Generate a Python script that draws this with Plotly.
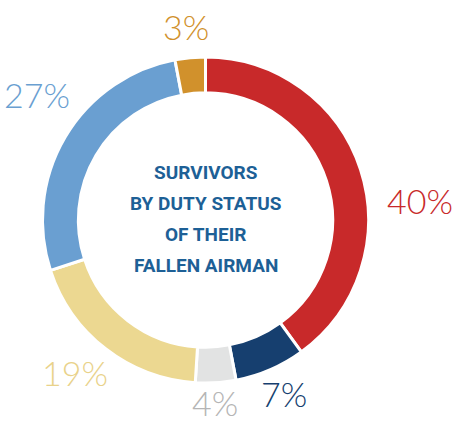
import math
import plotly.graph_objects as go

categories = ["Active Duty", "Reserve", "Guard", "Retired", "Veteran", "Other"]
values = [40, 7, 4, 19, 27, 3]
labels_text = ["40%", "7%", "4%", "19%", "27%", "3%"]
title_lines = ["SURVIVORS", "BY DUTY STATUS", "OF THEIR", "FALLEN AIRMAN"]

# styling
slice_colors = ["#c8292a", "#163f6f", "#e2e3e3", "#ecd891", "#6a9fd1", "#d1912c"]
label_colors = ["#c8292a", "#163f6f", "#b5b5b5", "#e9d28a", "#6a9fd1", "#d1912c"]
label_dist = [215, 191, 183, 201, 210, 194]      # px from centre to label centre
label_angle_shift = [12.7, -1, 0.6, 2.7, 6, -0.4]  # degrees

W, H = 456, 424
cx, cy, r = 205.5, 220, 163

fig = go.Figure(go.Pie(
    labels=categories,
    values=values,
    textinfo="none",
    sort=False,
    direction="clockwise",
    rotation=0,
    hole=0.78,
    marker=dict(colors=slice_colors, line=dict(color="white", width=3)),
    domain=dict(x=[(cx - r) / W, (cx + r) / W], y=[(H - cy - r) / H, (H - cy + r) / H]),
    showlegend=False,
    hoverinfo="label+percent",
))

total = sum(values)
cum = 0
for v, t, c, d, s in zip(values, labels_text, label_colors, label_dist, label_angle_shift):
    mid = math.radians((cum + v / 2) / total * 360 + s)
    cum += v
    px = cx + d * math.sin(mid)
    py = cy - d * math.cos(mid)
    fig.add_annotation(
        x=px / W, y=1 - py / H, xref="paper", yref="paper",
        text=t, showarrow=False, xanchor="center", yanchor="middle",
        font=dict(family="Lato", size=34, color=c, weight=300),
    )

line_gap = 31.3
n = len(title_lines)
for i, line in enumerate(title_lines):
    py = cy + (i - (n - 1) / 2) * line_gap - 1
    fig.add_annotation(
        x=cx / W, y=1 - py / H, xref="paper", yref="paper",
        text=line, showarrow=False, xanchor="center", yanchor="middle",
        font=dict(family="Roboto, sans-serif", size=19, color="#1d6096", weight="bold"),
    )

fig.update_layout(
    width=W, height=H, autosize=False,
    margin=dict(l=0, r=0, t=0, b=0),
    paper_bgcolor="white", plot_bgcolor="white",
)

fig.write_html(
    "out.html",
    config={"displayModeBar": False},
    post_script="document.body.style.margin='0';document.body.style.overflow='hidden';",
)
